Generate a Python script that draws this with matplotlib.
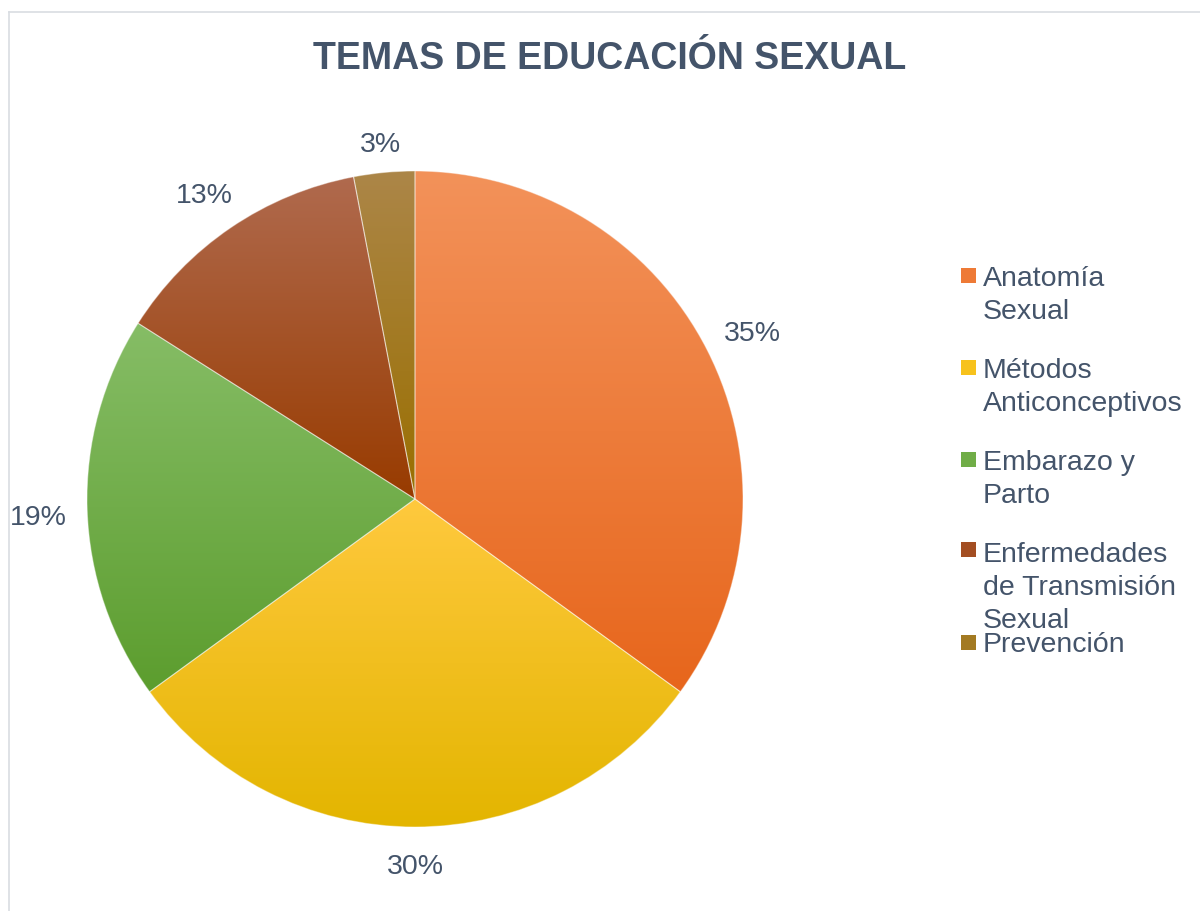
import matplotlib
matplotlib.use("Agg")
import matplotlib.pyplot as plt
import numpy as np
from matplotlib.colors import LinearSegmentedColormap
from matplotlib.lines import Line2D
from matplotlib.patches import Rectangle

plt.rcParams['font.family'] = ['Liberation Sans', 'DejaVu Sans']

# data
temas = ['Anatomía\nSexual', 'Métodos\nAnticonceptivos', 'Embarazo y\nParto',
         'Enfermedades\nde Transmisión\nSexual', 'Prevención']
valores = [35, 30, 19, 13, 3]
etiquetas = ['35%', '30%', '19%', '13%', '3%']

# gradient colours (top, bottom) for each slice
col_top = ['#F3925A', '#FFC93E', '#86BD66', '#B06A4E', '#AC8648']
col_bot = ['#E7661C', '#E3B500', '#5C9D2E', '#983B00', '#9A6F00']
col_mid = ['#EE7A36', '#F7C21C', '#70AD47', '#A34E22', '#A37A22']
txt_col = '#44546A'

W, H = 1200, 912
fig = plt.figure(figsize=(W / 100, H / 100), dpi=100)

# chart frame
fig.add_artist(Line2D([9 / W, 1], [1 - 13 / H, 1 - 13 / H], color='#D9DDE2', lw=1.2))
fig.add_artist(Line2D([9 / W, 9 / W], [0, 1 - 13 / H], color='#D9DDE2', lw=1.2))

cx, cy, R = 415, 500, 328
ax = fig.add_axes([(cx - R) / W, (H - cy - R) / H, 2 * R / W, 2 * R / H])

wedges, _ = ax.pie(valores, startangle=90, counterclock=False, radius=1,
                   colors=col_mid,
                   wedgeprops=dict(edgecolor=(1, 1, 1, 0.4), linewidth=0.8))

grad = np.linspace(0, 1, 256).reshape(-1, 1)
for w, ct, cb in zip(wedges, col_top, col_bot):
    bb = w.get_path().get_extents()
    cmap = LinearSegmentedColormap.from_list('g', [ct, cb])
    im = ax.imshow(grad, extent=[bb.x0, bb.x1, bb.y0, bb.y1], origin='upper',
                   cmap=cmap, aspect='auto', zorder=0.5, interpolation='bilinear')
    im.set_clip_path(w)
    w.set_facecolor('none')
    w.set_zorder(1)

ax.set_xlim(-1, 1)
ax.set_ylim(-1, 1)
ax.set_aspect('auto')
ax.axis('off')

# percentage labels outside end
halfh = 13 / R
for w, lab in zip(wedges, etiquetas):
    ang = np.deg2rad((w.theta1 + w.theta2) / 2)
    halfw = (len(lab) * 9.5) / R
    d = 1.06 + halfw * abs(np.cos(ang)) + halfh * abs(np.sin(ang))
    ax.text(d * np.cos(ang), d * np.sin(ang) - 6 / R, lab, ha='center', va='center',
            fontsize=20.5, color=txt_col, clip_on=False)

# title
fig.text(610 / W, 1 - 69 / H, 'TEMAS DE EDUCACIÓN SEXUAL', ha='center', va='baseline',
         fontsize=27, fontweight='bold', color=txt_col)

# legend
sq_top = [269, 361, 453, 543, 636]
base0 = [286, 378, 470, 562, 652]
for t, c, st, b in zip(temas, col_mid, sq_top, base0):
    fig.add_artist(Rectangle((961 / W, 1 - (st + 15) / H), 15 / W, 15 / H,
                             transform=fig.transFigure, facecolor=c, edgecolor='none'))
    for i, line in enumerate(t.split('\n')):
        fig.text(983 / W, 1 - (b + 33 * i) / H, line, ha='left', va='baseline',
                 fontsize=20.5, color=txt_col)

fig.savefig('out.png', dpi=100)
